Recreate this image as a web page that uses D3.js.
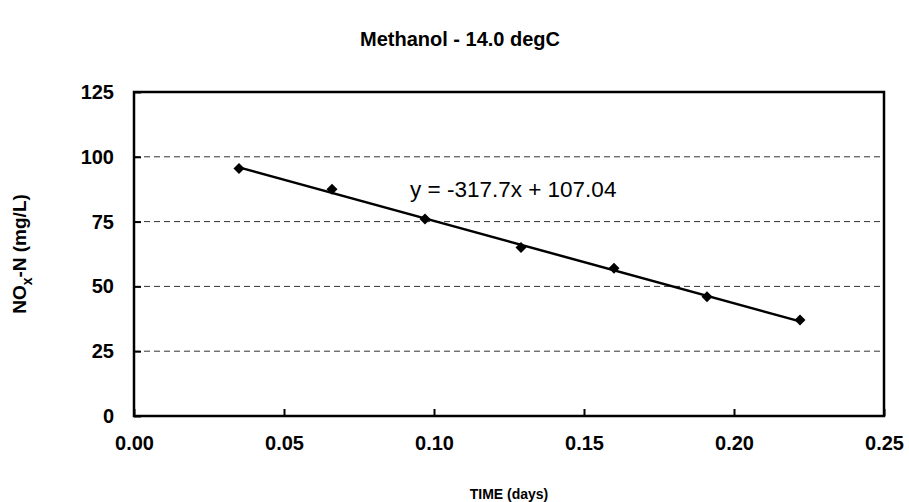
<!DOCTYPE html>
<html>
<head>
<meta charset="utf-8">
<script src="https://cdn.jsdelivr.net/npm/d3@7"></script>
<style>
  body { margin: 0; background: #fff; }
  text { font-family: "Liberation Sans", Arial, sans-serif; }
</style>
</head>
<body>
<div id="container"></div>
<script>
const timeDays = [0.035, 0.066, 0.097, 0.129, 0.160, 0.191, 0.222];
const noxN = [95.5, 87.5, 76.0, 65.0, 57.0, 46.0, 37.0];
const xTicks = [0, 0.05, 0.10, 0.15, 0.20, 0.25];
const yTicks = [0, 25, 50, 75, 100, 125];
const slope = -317.7;
const intercept = 107.04;

const w = 909;
const h = 502;
const plotLeft = 134, plotRight = 884, plotTop = 92, plotBottom = 416;

const svg = d3.select("#container")
              .append("svg")
              .attr("width", w)
              .attr("height", h);

const xScale = d3.scaleLinear().domain([0, 0.25]).range([plotLeft, plotRight]);
const yScale = d3.scaleLinear().domain([0, 125]).range([plotBottom, plotTop]);

// dashed gridlines
svg.append("g")
   .selectAll("line")
   .data(yTicks.filter(d => d > 0 && d < 125))
   .enter()
   .append("line")
   .attr("x1", plotLeft).attr("x2", plotRight)
   .attr("y1", d => yScale(d)).attr("y2", d => yScale(d))
   .attr("stroke", "#333")
   .attr("stroke-width", 1)
   .attr("stroke-dasharray", "6,4");

// axes with inward ticks
const xAxis = d3.axisBottom(xScale).tickValues(xTicks).tickFormat(d3.format(".2f"))
                .tickSizeInner(-7).tickSizeOuter(0).tickPadding(20);
const yAxis = d3.axisLeft(yScale).tickValues(yTicks).tickFormat(d3.format("d"))
                .tickSizeInner(-7).tickSizeOuter(0).tickPadding(20);

const gx = svg.append("g")
   .attr("transform", "translate(0," + plotBottom + ")")
   .call(xAxis);
const gy = svg.append("g")
   .attr("transform", "translate(" + plotLeft + ",0)")
   .call(yAxis);

[gx, gy].forEach(g => {
  g.select(".domain").remove();
  g.selectAll(".tick line").attr("stroke", "#000").attr("stroke-width", 2);
  g.selectAll("text")
   .attr("fill", "#000")
   .style("font-size", "20px")
   .style("font-weight", "bold");
});

// plot border
svg.append("rect")
   .attr("x", plotLeft).attr("y", plotTop)
   .attr("width", plotRight - plotLeft).attr("height", plotBottom - plotTop)
   .attr("fill", "none")
   .attr("stroke", "#000")
   .attr("stroke-width", 2.5);

// trendline
const x0 = d3.min(timeDays), x1 = d3.max(timeDays);
svg.append("line")
   .attr("x1", xScale(x0)).attr("y1", yScale(slope * x0 + intercept))
   .attr("x2", xScale(x1)).attr("y2", yScale(slope * x1 + intercept))
   .attr("stroke", "#000")
   .attr("stroke-width", 2.5);

// diamond markers
svg.selectAll(".pt")
   .data(timeDays)
   .enter()
   .append("path")
   .attr("class", "pt")
   .attr("d", (d, i) => {
     const cx = xScale(d), cy = yScale(noxN[i]), r = 5.5;
     return "M" + cx + "," + (cy - r) + "L" + (cx + r) + "," + cy +
            "L" + cx + "," + (cy + r) + "L" + (cx - r) + "," + cy + "Z";
   })
   .attr("fill", "#000");

// equation
svg.append("text")
   .attr("x", 410).attr("y", 197)
   .style("font-size", "22.5px")
   .text("y = " + slope + "x + " + intercept.toFixed(2));

// title
svg.append("text")
   .attr("x", 460).attr("y", 46)
   .attr("text-anchor", "middle")
   .style("font-size", "20px")
   .style("font-weight", "bold")
   .text("Methanol - 14.0 degC");

// axis titles
svg.append("text")
   .attr("x", (plotLeft + plotRight) / 2).attr("y", 499)
   .attr("text-anchor", "middle")
   .style("font-size", "14px")
   .style("font-weight", "bold")
   .text("TIME (days)");

const yl = svg.append("text")
   .attr("transform", "translate(26," + ((plotTop + plotBottom) / 2) + ") rotate(-90)")
   .attr("text-anchor", "middle")
   .style("font-size", "19px")
   .style("font-weight", "bold");
yl.append("tspan").text("NO");
yl.append("tspan").attr("dy", 6).style("font-size", "14px").text("x");
yl.append("tspan").attr("dy", -6).text("-N (mg/L)");
</script>
</body>
</html>
